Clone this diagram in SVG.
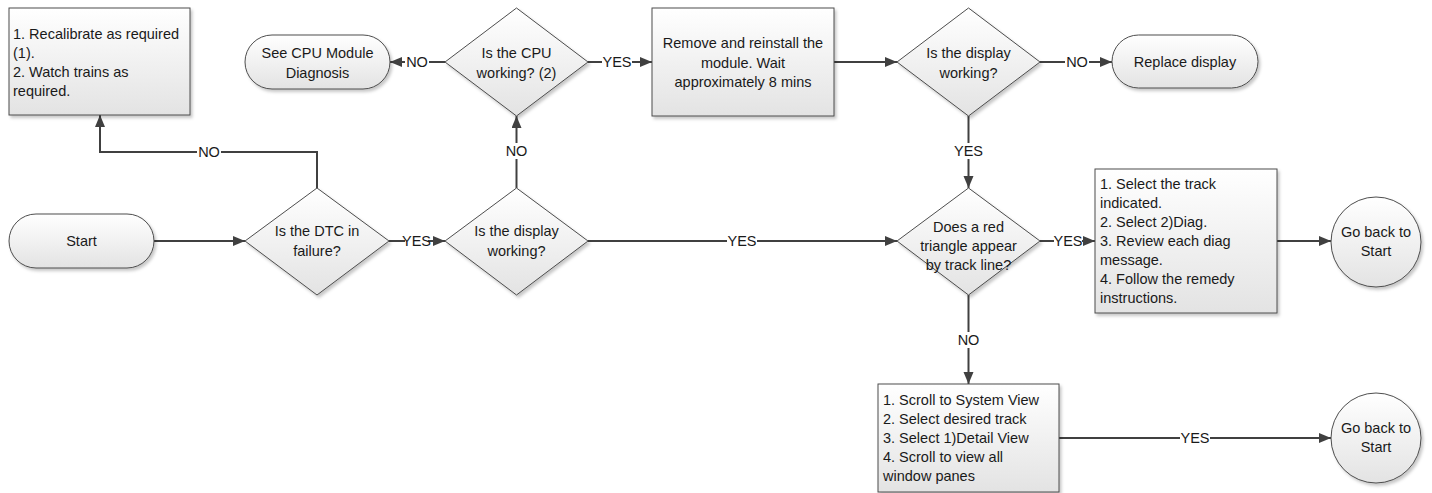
<svg xmlns="http://www.w3.org/2000/svg" width="1432" height="493" viewBox="0 0 1432 493">
<style>
text{font-family:"Liberation Sans",Arial,sans-serif;font-size:14.5px;fill:#1a1a1a}
.c{text-anchor:middle}
.shape{fill:url(#g);stroke:#4d4d4d;stroke-width:1;filter:url(#sh)}
.conn{fill:none;stroke:#404040;stroke-width:2}
.lbg{fill:#ffffff}
</style>
<defs>
<linearGradient id="g" x1="0" y1="0" x2="0" y2="1">
<stop offset="0" stop-color="#ffffff"/>
<stop offset="1" stop-color="#e3e3e3"/>
</linearGradient>
<filter id="sh" x="-10%" y="-10%" width="125%" height="125%">
<feDropShadow dx="2" dy="2.5" stdDeviation="1.5" flood-color="#000" flood-opacity="0.22"/>
</filter>
<marker id="ah" markerUnits="userSpaceOnUse" markerWidth="13" markerHeight="11" refX="12" refY="5" orient="auto">
<path d="M0,0 L12,5 L0,10 z" fill="#404040"/>
</marker>
</defs>

<g id="connectors">
<path class="conn" marker-end="url(#ah)" d="M154,241 H245"/>
<path class="conn" marker-end="url(#ah)" d="M389,241 H445"/>
<path class="conn" marker-end="url(#ah)" d="M317,188 V152 H100 V115"/>
<path class="conn" marker-end="url(#ah)" d="M516.5,188 V116"/>
<path class="conn" marker-end="url(#ah)" d="M445,62 H390"/>
<path class="conn" marker-end="url(#ah)" d="M588,62 H652"/>
<path class="conn" marker-end="url(#ah)" d="M834,62 H897"/>
<path class="conn" marker-end="url(#ah)" d="M1040,62 H1112"/>
<path class="conn" marker-end="url(#ah)" d="M968.5,116 V188"/>
<path class="conn" marker-end="url(#ah)" d="M588,241 H897"/>
<path class="conn" marker-end="url(#ah)" d="M1040,241 H1095"/>
<path class="conn" marker-end="url(#ah)" d="M1277,241 H1331"/>
<path class="conn" marker-end="url(#ah)" d="M968.5,295 V384"/>
<path class="conn" marker-end="url(#ah)" d="M1059,438 H1331"/>
<g id="labels">
<rect class="lbg" x="405" y="233" width="23" height="16"/><text class="c" x="416.5" y="246">YES</text>
<rect class="lbg" x="197" y="144" width="24" height="16"/><text class="c" x="209" y="157">NO</text>
<rect class="lbg" x="504.5" y="143" width="24" height="16"/><text class="c" x="516.5" y="156">NO</text>
<rect class="lbg" x="405" y="54" width="24" height="16"/><text class="c" x="417" y="67">NO</text>
<rect class="lbg" x="602" y="54" width="30" height="16"/><text class="c" x="617" y="67">YES</text>
<rect class="lbg" x="1065" y="54" width="24" height="16"/><text class="c" x="1077" y="67">NO</text>
<rect class="lbg" x="953.5" y="143" width="30" height="16"/><text class="c" x="968.5" y="156">YES</text>
<rect class="lbg" x="727" y="233" width="30" height="16"/><text class="c" x="742" y="246">YES</text>
<rect class="lbg" x="1054" y="233" width="28" height="16"/><text class="c" x="1068" y="246">YES</text>
<rect class="lbg" x="956.5" y="332" width="24" height="16"/><text class="c" x="968.5" y="345">NO</text>
<rect class="lbg" x="1180" y="430" width="30" height="16"/><text class="c" x="1195" y="443">YES</text>
</g>
</g>

<g id="recalibrate">
<rect class="shape" x="9" y="8" width="181" height="107"/>
<text x="13" y="38.5">1. Recalibrate as required</text>
<text x="13" y="57.5">(1).</text>
<text x="13" y="76.5">2. Watch trains as</text>
<text x="13" y="95.5">required.</text>
</g>

<g id="see-cpu">
<rect class="shape" x="245" y="35" width="145" height="54" rx="27" ry="27"/>
<text class="c" x="317.5" y="58">See CPU Module</text>
<text class="c" x="317.5" y="78">Diagnosis</text>
</g>

<g id="cpu-working">
<polygon class="shape" points="445,62 516.5,8 588,62 516.5,116"/>
<text class="c" x="516.5" y="57.5">Is the CPU</text>
<text class="c" x="516.5" y="77.5">working? (2)</text>
</g>

<g id="remove-reinstall">
<rect class="shape" x="652" y="8" width="182" height="108"/>
<text class="c" x="743" y="48">Remove and reinstall the</text>
<text class="c" x="743" y="67.5">module. Wait</text>
<text class="c" x="743" y="87">approximately 8 mins</text>
</g>

<g id="display-working-1">
<polygon class="shape" points="897,62 968.5,8 1040,62 968.5,116"/>
<text class="c" x="968.5" y="57.5">Is the display</text>
<text class="c" x="968.5" y="77.5">working?</text>
</g>

<g id="replace-display">
<rect class="shape" x="1112" y="35" width="146" height="53" rx="26.5" ry="26.5"/>
<text class="c" x="1185" y="67">Replace display</text>
</g>

<g id="start">
<rect class="shape" x="9" y="214" width="145" height="54" rx="27" ry="27"/>
<text class="c" x="81.5" y="246">Start</text>
</g>

<g id="dtc-failure">
<polygon class="shape" points="245,241 317,188 389,241 317,295"/>
<text class="c" x="317" y="236">Is the DTC in</text>
<text class="c" x="317" y="256">failure?</text>
</g>

<g id="display-working-2">
<polygon class="shape" points="445,241 516.5,188 588,241 516.5,295"/>
<text class="c" x="516.5" y="236">Is the display</text>
<text class="c" x="516.5" y="256">working?</text>
</g>

<g id="red-triangle">
<polygon class="shape" points="897,241 968.5,188 1040,241 968.5,295"/>
<text class="c" x="968.5" y="232">Does a red</text>
<text class="c" x="968.5" y="251">triangle appear</text>
<text class="c" x="968.5" y="270">by track line?</text>
</g>

<g id="select-track">
<rect class="shape" x="1095" y="169" width="182" height="144"/>
<text x="1100" y="189">1. Select the track</text>
<text x="1100" y="208">indicated.</text>
<text x="1100" y="227">2. Select 2)Diag.</text>
<text x="1100" y="246">3. Review each diag</text>
<text x="1100" y="265">message.</text>
<text x="1100" y="284">4. Follow the remedy</text>
<text x="1100" y="303">instructions.</text>
</g>

<g id="go-back-1">
<circle class="shape" cx="1376" cy="242" r="45"/>
<text class="c" x="1376" y="237">Go back to</text>
<text class="c" x="1376" y="256">Start</text>
</g>

<g id="scroll-system">
<rect class="shape" x="878" y="384" width="181" height="108"/>
<text x="883" y="405">1. Scroll to System View</text>
<text x="883" y="424">2. Select desired track</text>
<text x="883" y="443">3. Select 1)Detail View</text>
<text x="883" y="462">4. Scroll to view all</text>
<text x="883" y="481">window panes</text>
</g>

<g id="go-back-2">
<circle class="shape" cx="1376" cy="438" r="45"/>
<text class="c" x="1376" y="433">Go back to</text>
<text class="c" x="1376" y="452">Start</text>
</g>
</svg>
